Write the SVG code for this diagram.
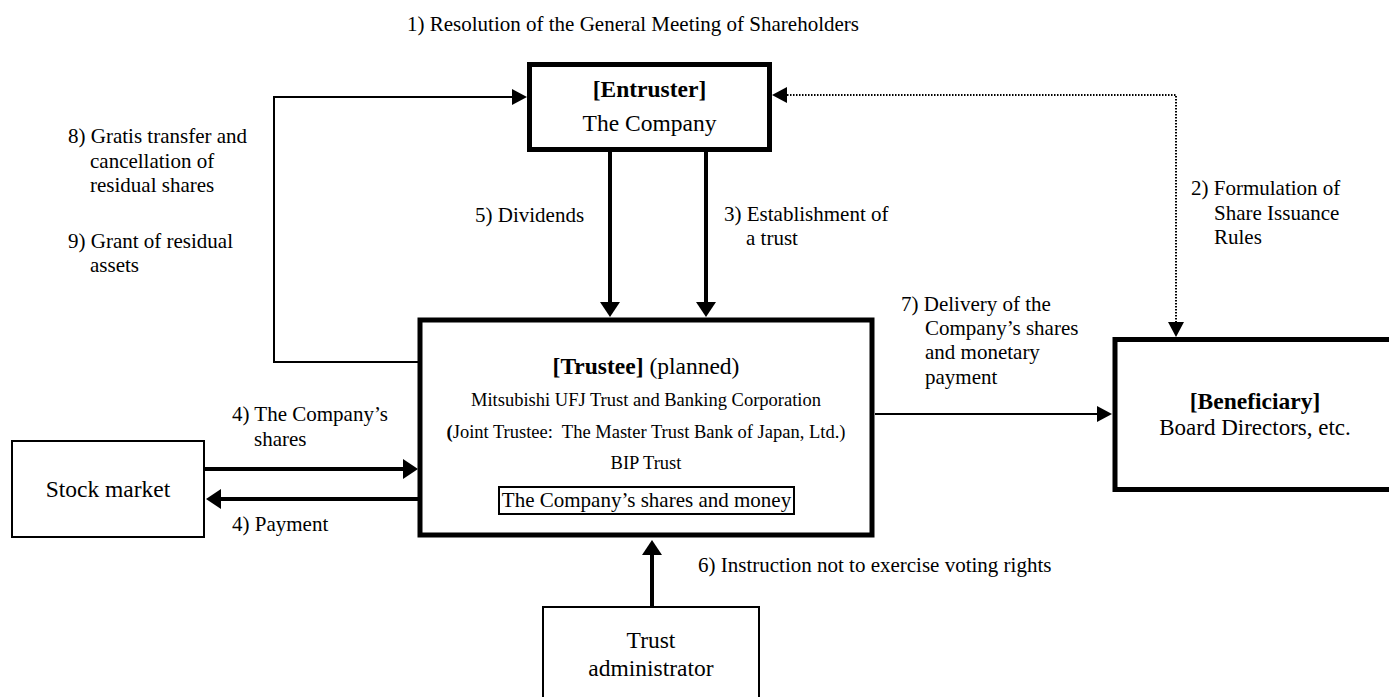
<svg xmlns="http://www.w3.org/2000/svg" width="1389" height="697" viewBox="0 0 1389 697">
<defs>
<style>
text{font-family:"Liberation Serif","Times New Roman",serif;fill:#000}
.lbl{font-size:21px}
.big{font-size:23.5px}
.mid{font-size:18.5px}
.b{font-weight:bold}
.c{text-anchor:middle}
.thick{fill:#fff;stroke:#000;stroke-width:5}
.thin{fill:#fff;stroke:#000;stroke-width:2}
.ln4{fill:none;stroke:#000;stroke-width:4}
.ln2{fill:none;stroke:#000;stroke-width:2}
.dot{fill:none;stroke:#000;stroke-width:2;stroke-dasharray:1.5 1.5}
</style>
<marker id="ah" viewBox="0 0 15 20" markerWidth="15" markerHeight="20" refX="11" refY="10" markerUnits="userSpaceOnUse" orient="auto-start-reverse"><path d="M0,0 L15,10 L0,20 Z" fill="#000"/></marker>
<marker id="ahs" viewBox="0 0 15 16" markerWidth="15" markerHeight="16" refX="12" refY="8" markerUnits="userSpaceOnUse" orient="auto-start-reverse"><path d="M0,0 L15,8 L0,16 Z" fill="#000"/></marker>
</defs>
<rect width="1389" height="697" fill="#fff"/>

<text class="lbl" x="407" y="31">1) Resolution of the General Meeting of Shareholders</text>

<g id="connectors">
<path class="ln2" d="M418,362 H274 V97 H524" marker-end="url(#ahs)"/>
<path class="dot" d="M775,95 H1176 V334" marker-start="url(#ahs)" marker-end="url(#ahs)"/>
<path class="ln4" d="M610,152 V313" marker-end="url(#ah)"/>
<path class="ln4" d="M706,152 V313" marker-end="url(#ah)"/>
<path class="ln4" d="M205,469 H414" marker-end="url(#ah)"/>
<path class="ln4" d="M418,499 H210" marker-end="url(#ah)"/>
<path class="ln4" d="M652,607 V544" marker-end="url(#ah)"/>
<path class="ln2" d="M875,414 H1109" marker-end="url(#ahs)"/>
</g>

<g id="entruster">
<rect class="thick" x="529.5" y="64.5" width="240" height="85"/>
<text class="big b c" x="649.5" y="97">[Entruster]</text>
<text class="big c" x="649.5" y="131">The Company</text>
</g>

<g id="trustee">
<rect class="thick" x="420" y="320" width="452" height="215"/>
<text class="big c" x="646" y="374"><tspan class="b">[Trustee]</tspan> (planned)</text>
<text class="mid c" x="646" y="406">Mitsubishi UFJ Trust and Banking Corporation</text>
<text class="mid c" x="646" y="438" xml:space="preserve"><tspan class="b">(</tspan>Joint Trustee:  The Master Trust Bank of Japan, Ltd.)</text>
<text class="mid c" x="646" y="469">BIP Trust</text>
<rect class="thin" x="499" y="487" width="295" height="27"/>
<text class="lbl c" x="646.5" y="507">The Company’s shares and money</text>
</g>

<g id="beneficiary">
<rect class="thick" x="1115" y="339.5" width="280" height="150"/>
<text class="big b c" x="1255" y="409">[Beneficiary]</text>
<text class="c" style="font-size:23px" x="1255" y="435">Board Directors, etc.</text>
</g>

<g id="stock-market">
<rect class="thin" x="12" y="441" width="192" height="96"/>
<text class="big c" x="108" y="497">Stock market</text>
</g>

<g id="trust-administrator">
<rect class="thin" x="543" y="607" width="216" height="100"/>
<text class="big c" x="651" y="648">Trust</text>
<text class="big c" x="651" y="676">administrator</text>
</g>

<g id="labels">
<text class="lbl" x="68" y="143">8) Gratis transfer and</text>
<text class="lbl" x="90" y="168">cancellation of</text>
<text class="lbl" x="90" y="192">residual shares</text>
<text class="lbl" x="68" y="248">9) Grant of residual</text>
<text class="lbl" x="90" y="272">assets</text>
<text class="lbl" x="475" y="222">5) Dividends</text>
<text class="lbl" x="724" y="221">3) Establishment of</text>
<text class="lbl" x="746" y="245">a trust</text>
<text class="lbl" x="1191" y="195">2) Formulation of</text>
<text class="lbl" x="1214" y="220">Share Issuance</text>
<text class="lbl" x="1214" y="244">Rules</text>
<text class="lbl" x="901" y="311">7) Delivery of the</text>
<text class="lbl" x="925" y="335">Company’s shares</text>
<text class="lbl" x="925" y="359">and monetary</text>
<text class="lbl" x="925" y="384">payment</text>
<text class="lbl" x="232" y="421">4) The Company’s</text>
<text class="lbl" x="254" y="446">shares</text>
<text class="lbl" x="232" y="531">4) Payment</text>
<text class="lbl" x="698" y="572">6) Instruction not to exercise voting rights</text>
</g>
</svg>
